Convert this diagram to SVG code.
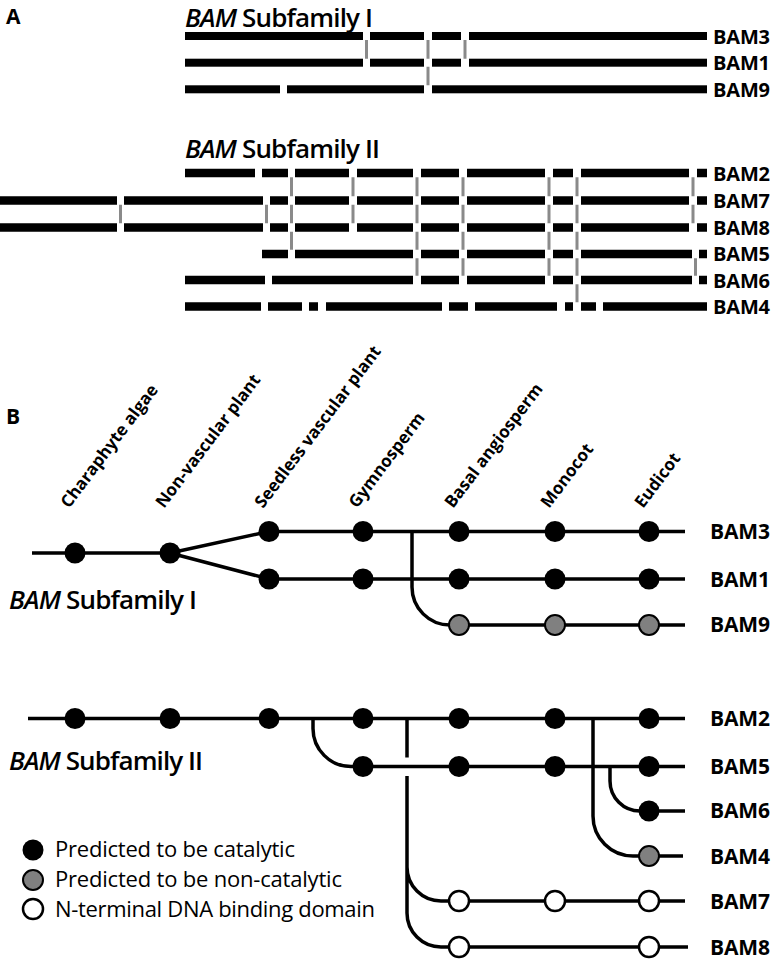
<svg xmlns="http://www.w3.org/2000/svg" width="776" height="960" viewBox="0 0 776 960">
<style>
.bar{fill:#000}
.gl{stroke:#8a8a8a;stroke-width:3;fill:none}
.ln{stroke:#000;stroke-width:3.5;fill:none}
.cat{fill:#000}
.non{fill:#808080;stroke:#000;stroke-width:2}
.dna{fill:#fff;stroke:#000;stroke-width:2.5}
text{font-family:"Open Sans","Liberation Sans",sans-serif;fill:#000}
.pl{font-weight:700;font-size:21px}
.lbl{font-weight:700;font-size:20px}
.lblb{font-weight:700;font-size:21px}
.ttl{font-weight:600;font-size:26px}
.rot{font-weight:700;font-size:17px}
.leg{font-weight:400;font-size:22px}
</style>
<rect width="776" height="960" fill="#fff"/>

<!-- Panel A -->
<text class="pl" x="6" y="24">A</text>
<g id="titleA1"><text class="ttl" x="185" y="27" textLength="188"><tspan font-style="italic">BAM</tspan> Subfamily I</text></g>

<g id="A-BAM3">
<rect class="bar" x="185" y="32" width="178" height="8"/><rect class="bar" x="370" y="32" width="54" height="8"/><rect class="bar" x="432" y="32" width="29" height="8"/><rect class="bar" x="469" y="32" width="238" height="8"/>
<text class="lbl" x="713" y="43.5" textLength="57">BAM3</text></g>
<g id="A-BAM1">
<rect class="bar" x="185" y="58.7" width="178" height="8"/><rect class="bar" x="370" y="58.7" width="54" height="8"/><rect class="bar" x="432" y="58.7" width="29" height="8"/><rect class="bar" x="469" y="58.7" width="238" height="8"/>
<text class="lbl" x="713" y="70" textLength="57">BAM1</text></g>
<g id="A-BAM9">
<rect class="bar" x="185" y="85.3" width="95" height="8"/><rect class="bar" x="287" y="85.3" width="137" height="8"/><rect class="bar" x="432" y="85.3" width="275" height="8"/>
<text class="lbl" x="713" y="97" textLength="57">BAM9</text></g>
<g id="A-links1">
<path class="gl" d="M366.5 40V58.7M428 40V58.7M428 66.7V85.3M465 40V58.7"/>
</g>

<g id="titleA2"><text class="ttl" x="185" y="158" textLength="195"><tspan font-style="italic">BAM</tspan> Subfamily II</text></g>

<g id="A-BAM2">
<rect class="bar" x="185" y="168.75" width="70" height="8.5"/><rect class="bar" x="262" y="168.75" width="26" height="8.5"/><rect class="bar" x="295" y="168.75" width="54" height="8.5"/><rect class="bar" x="357" y="168.75" width="56" height="8.5"/><rect class="bar" x="421" y="168.75" width="38" height="8.5"/><rect class="bar" x="467" y="168.75" width="78" height="8.5"/><rect class="bar" x="553" y="168.75" width="20" height="8.5"/><rect class="bar" x="581" y="168.75" width="108" height="8.5"/><rect class="bar" x="697" y="168.75" width="10" height="8.5"/>
<text class="lbl" x="713" y="181" textLength="57">BAM2</text></g>
<g id="A-BAM7">
<rect class="bar" x="0" y="196.25" width="117" height="8.5"/><rect class="bar" x="124" y="196.25" width="139" height="8.5"/><rect class="bar" x="270" y="196.25" width="18" height="8.5"/><rect class="bar" x="295" y="196.25" width="54" height="8.5"/><rect class="bar" x="357" y="196.25" width="56" height="8.5"/><rect class="bar" x="421" y="196.25" width="38" height="8.5"/><rect class="bar" x="467" y="196.25" width="78" height="8.5"/><rect class="bar" x="553" y="196.25" width="20" height="8.5"/><rect class="bar" x="581" y="196.25" width="108" height="8.5"/><rect class="bar" x="697" y="196.25" width="10" height="8.5"/>
<text class="lbl" x="713" y="208" textLength="57">BAM7</text></g>
<g id="A-BAM8">
<rect class="bar" x="0" y="223.25" width="117" height="8.5"/><rect class="bar" x="124" y="223.25" width="139" height="8.5"/><rect class="bar" x="270" y="223.25" width="18" height="8.5"/><rect class="bar" x="295" y="223.25" width="54" height="8.5"/><rect class="bar" x="357" y="223.25" width="56" height="8.5"/><rect class="bar" x="421" y="223.25" width="38" height="8.5"/><rect class="bar" x="467" y="223.25" width="78" height="8.5"/><rect class="bar" x="553" y="223.25" width="20" height="8.5"/><rect class="bar" x="581" y="223.25" width="108" height="8.5"/><rect class="bar" x="697" y="223.25" width="10" height="8.5"/>
<text class="lbl" x="713" y="235" textLength="57">BAM8</text></g>
<g id="A-BAM5">
<rect class="bar" x="262" y="249.75" width="26" height="8.5"/><rect class="bar" x="295" y="249.75" width="118" height="8.5"/><rect class="bar" x="421" y="249.75" width="38" height="8.5"/><rect class="bar" x="467" y="249.75" width="78" height="8.5"/><rect class="bar" x="553" y="249.75" width="20" height="8.5"/><rect class="bar" x="581" y="249.75" width="111" height="8.5"/><rect class="bar" x="699" y="249.75" width="8" height="8.5"/>
<text class="lbl" x="713" y="261" textLength="57">BAM5</text></g>
<g id="A-BAM6">
<rect class="bar" x="185" y="275.75" width="80" height="8.5"/><rect class="bar" x="272" y="275.75" width="141" height="8.5"/><rect class="bar" x="421" y="275.75" width="38" height="8.5"/><rect class="bar" x="467" y="275.75" width="78" height="8.5"/><rect class="bar" x="553" y="275.75" width="20" height="8.5"/><rect class="bar" x="581" y="275.75" width="111" height="8.5"/><rect class="bar" x="699" y="275.75" width="8" height="8.5"/>
<text class="lbl" x="713" y="287.5" textLength="57">BAM6</text></g>
<g id="A-BAM4">
<rect class="bar" x="185" y="302.25" width="76" height="8.5"/><rect class="bar" x="268" y="302.25" width="34" height="8.5"/><rect class="bar" x="309" y="302.25" width="9" height="8.5"/><rect class="bar" x="326" y="302.25" width="116" height="8.5"/><rect class="bar" x="449" y="302.25" width="19" height="8.5"/><rect class="bar" x="475" y="302.25" width="82" height="8.5"/><rect class="bar" x="565" y="302.25" width="8" height="8.5"/><rect class="bar" x="581" y="302.25" width="15" height="8.5"/><rect class="bar" x="603" y="302.25" width="104" height="8.5"/>
<text class="lbl" x="713" y="314" textLength="57">BAM4</text></g>
<g id="A-links2">
<path class="gl" d="M120.5 204.75V223.25M266.5 204.75V223.25
M291.5 177.25V196.25M291.5 204.75V223.25M291.5 231.75V249.75
M353 177.25V196.25M353 204.75V223.25
M417 177.25V196.25M417 204.75V223.25M417 231.75V249.75M417 258.25V275.75
M463 177.25V196.25M463 204.75V223.25M463 231.75V249.75M463 258.25V275.75
M549 177.25V196.25M549 204.75V223.25M549 231.75V249.75M549 258.25V275.75
M577 177.25V196.25M577 204.75V223.25M577 231.75V249.75M577 258.25V275.75M577 284.25V302.25
M693 177.25V196.25M693 204.75V223.25M695.5 258.25V275.75"/>
</g>

<!-- Panel B -->
<text class="pl" x="6" y="424">B</text>
<g id="taxa">
<text class="rot" transform="translate(69,509) rotate(-53)">Charaphyte algae</text>
<text class="rot" transform="translate(164,509) rotate(-53)">Non-vascular plant</text>
<text class="rot" transform="translate(263,509) rotate(-53)">Seedless vascular plant</text>
<text class="rot" transform="translate(357,509) rotate(-53)">Gymnosperm</text>
<text class="rot" transform="translate(453,509) rotate(-53)">Basal angiosperm</text>
<text class="rot" transform="translate(549,509) rotate(-53)">Monocot</text>
<text class="rot" transform="translate(643,509) rotate(-53)">Eudicot</text>
</g>

<g id="connectors">
<path class="ln" d="M32 553H170M170 553L269 531.5M170 553L269 579M269 531.5H685M269 579H685"/>
<path class="ln" d="M412 531.5V587A38 38 0 0 0 450 625H685"/>
<path class="ln" d="M28 718.5H685"/>
<path class="ln" d="M313 718.5V728.5A38 38 0 0 0 351 766.5H685"/>
<path class="ln" d="M407 718.5V757.5M407 776V913A34 34 0 0 0 441 947H688M407 867A34 34 0 0 0 441 901H685"/>
<path class="ln" d="M593 718.5V816A40 40 0 0 0 633 856H683"/>
<path class="ln" d="M610 766.5V781A30 30 0 0 0 640 811H685"/>
</g>

<g id="B-title1"><text class="ttl" x="9" y="609" textLength="188"><tspan font-style="italic">BAM</tspan> Subfamily I</text></g>
<g id="B-title2"><text class="ttl" x="9" y="770" textLength="194"><tspan font-style="italic">BAM</tspan> Subfamily II</text></g>

<g id="B-root1"><circle class="cat" cx="75" cy="553" r="10.5"/><circle class="cat" cx="170" cy="553" r="10.5"/></g>
<g id="B-BAM3"><circle class="cat" cx="269" cy="531.5" r="10.5"/><circle class="cat" cx="363" cy="531.5" r="10.5"/><circle class="cat" cx="459" cy="531.5" r="10.5"/><circle class="cat" cx="555" cy="531.5" r="10.5"/><circle class="cat" cx="649" cy="531.5" r="10.5"/><text class="lblb" x="710" y="538.5" textLength="60">BAM3</text></g>
<g id="B-BAM1"><circle class="cat" cx="269" cy="579" r="10.5"/><circle class="cat" cx="363" cy="579" r="10.5"/><circle class="cat" cx="459" cy="579" r="10.5"/><circle class="cat" cx="555" cy="579" r="10.5"/><circle class="cat" cx="649" cy="579" r="10.5"/><text class="lblb" x="710" y="586.5" textLength="60">BAM1</text></g>
<g id="B-BAM9"><circle class="non" cx="459" cy="625" r="10"/><circle class="non" cx="555" cy="625" r="10"/><circle class="non" cx="649" cy="625" r="10"/><text class="lblb" x="710" y="632" textLength="60">BAM9</text></g>

<g id="B-BAM2"><circle class="cat" cx="75" cy="718.5" r="10.5"/><circle class="cat" cx="170" cy="718.5" r="10.5"/><circle class="cat" cx="269" cy="718.5" r="10.5"/><circle class="cat" cx="363" cy="718.5" r="10.5"/><circle class="cat" cx="459" cy="718.5" r="10.5"/><circle class="cat" cx="555" cy="718.5" r="10.5"/><circle class="cat" cx="649" cy="718.5" r="10.5"/><text class="lblb" x="710" y="725.5" textLength="60">BAM2</text></g>
<g id="B-BAM5"><circle class="cat" cx="363" cy="766.5" r="10.5"/><circle class="cat" cx="459" cy="766.5" r="10.5"/><circle class="cat" cx="555" cy="766.5" r="10.5"/><circle class="cat" cx="649" cy="766.5" r="10.5"/><text class="lblb" x="710" y="773.5" textLength="60">BAM5</text></g>
<g id="B-BAM6"><circle class="cat" cx="649" cy="811" r="10.5"/><text class="lblb" x="710" y="818" textLength="60">BAM6</text></g>
<g id="B-BAM4"><circle class="non" cx="649" cy="856" r="10"/><text class="lblb" x="710" y="863.5" textLength="60">BAM4</text></g>
<g id="B-BAM7"><circle class="dna" cx="459" cy="901" r="10"/><circle class="dna" cx="555" cy="901" r="10"/><circle class="dna" cx="649" cy="901" r="10"/><text class="lblb" x="710" y="908.5" textLength="60">BAM7</text></g>
<g id="B-BAM8"><circle class="dna" cx="459" cy="947" r="10"/><circle class="dna" cx="649" cy="947" r="10"/><text class="lblb" x="710" y="954.5" textLength="60">BAM8</text></g>

<g id="legend">
<circle class="cat" cx="33" cy="850" r="10.5"/><text class="leg" x="55" y="857" textLength="240">Predicted to be catalytic</text>
<circle class="non" cx="33" cy="880" r="10"/><text class="leg" x="55" y="887" textLength="287">Predicted to be non-catalytic</text>
<circle class="dna" cx="33" cy="909" r="10"/><text class="leg" x="55" y="916.5" textLength="320">N-terminal DNA binding domain</text>
</g>
</svg>
